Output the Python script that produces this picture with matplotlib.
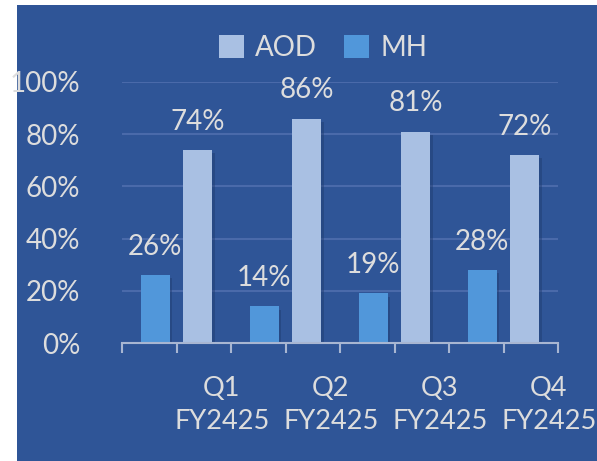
import matplotlib.pyplot as plt
import numpy as np
from matplotlib.patches import Rectangle

quarters = ['Q1\nFY2425', 'Q2\nFY2425', 'Q3\nFY2425', 'Q4\nFY2425']
mh = [26, 14, 19, 28]
aod = [74, 86, 81, 72]

bg = '#2F5597'
txt = '#DDDDDD'
fs = 20
plt.rcParams['font.family'] = ['Lato', 'DejaVu Sans']

fig = plt.figure(figsize=(5.97, 4.61), dpi=100, facecolor='white')
fig.patches.append(Rectangle((17 / 597, 0), 1, 456 / 461, transform=fig.transFigure,
                             facecolor=bg, edgecolor='none', zorder=-10))
ax = fig.add_axes([122 / 597, 1 - 343 / 461, 436 / 597, 261 / 461])
ax.set_facecolor(bg)

x = np.arange(len(quarters))
w = 0.266
off = 0.197
# soft shadows behind the bars
ax.bar(x - off + 0.025, mh, w, bottom=-1.2, color='#1F3B6E', alpha=0.45, zorder=1)
ax.bar(x + off + 0.025, aod, w, bottom=-1.2, color='#1F3B6E', alpha=0.45, zorder=1)
b1 = ax.bar(x - off, mh, w, color='#5197DA', label='MH', zorder=2)
b2 = ax.bar(x + off, aod, w, color='#A9C0E3', label='AOD', zorder=2)

for bars, vals in ((b1, mh), (b2, aod)):
    for r, v in zip(bars, vals):
        ax.annotate(f'{v}%', (r.get_x() + r.get_width() / 2, v), xytext=(0, 11),
                    textcoords='offset points', ha='center', va='bottom',
                    color=txt, fontsize=fs, annotation_clip=False)

ax.set_xlim(-0.5, 3.5)
ax.set_ylim(0, 100)
ax.set_yticks([0, 20, 40, 60, 80, 100])
ax.set_yticklabels([f'{t}%' for t in [0, 20, 40, 60, 80, 100]])
ax.grid(axis='y', color='#4A6AAA', linewidth=1.5)
ax.set_axisbelow(True)
for s in ['top', 'right', 'left']:
    ax.spines[s].set_visible(False)
ax.spines['bottom'].set_color('#A8B6D2')
ax.spines['bottom'].set_linewidth(1.5)
ax.spines['bottom'].set_zorder(3)

ax.set_xticks(x + 0.415)
ax.set_xticklabels(quarters, linespacing=1.4)
ax.set_xticks(np.arange(-0.5, 3.6, 0.5), minor=True)
ax.tick_params(axis='x', which='major', length=0, pad=24, labelsize=19.5, labelcolor=txt)
ax.tick_params(axis='x', which='minor', length=7, width=1.5, color='#A8B6D2')
ax.tick_params(axis='y', length=0, pad=30, labelsize=fs, labelcolor=txt)

h, l = ax.get_legend_handles_labels()
fig.legend(h[::-1], l[::-1], loc='center', bbox_to_anchor=(323 / 597, 1 - 48 / 461),
           ncol=2, frameon=False, fontsize=fs, labelcolor=txt, handlelength=0.9,
           handleheight=0.9, handletextpad=0.4, columnspacing=1.0)

fig.savefig('out.png', dpi=100, facecolor='white')
